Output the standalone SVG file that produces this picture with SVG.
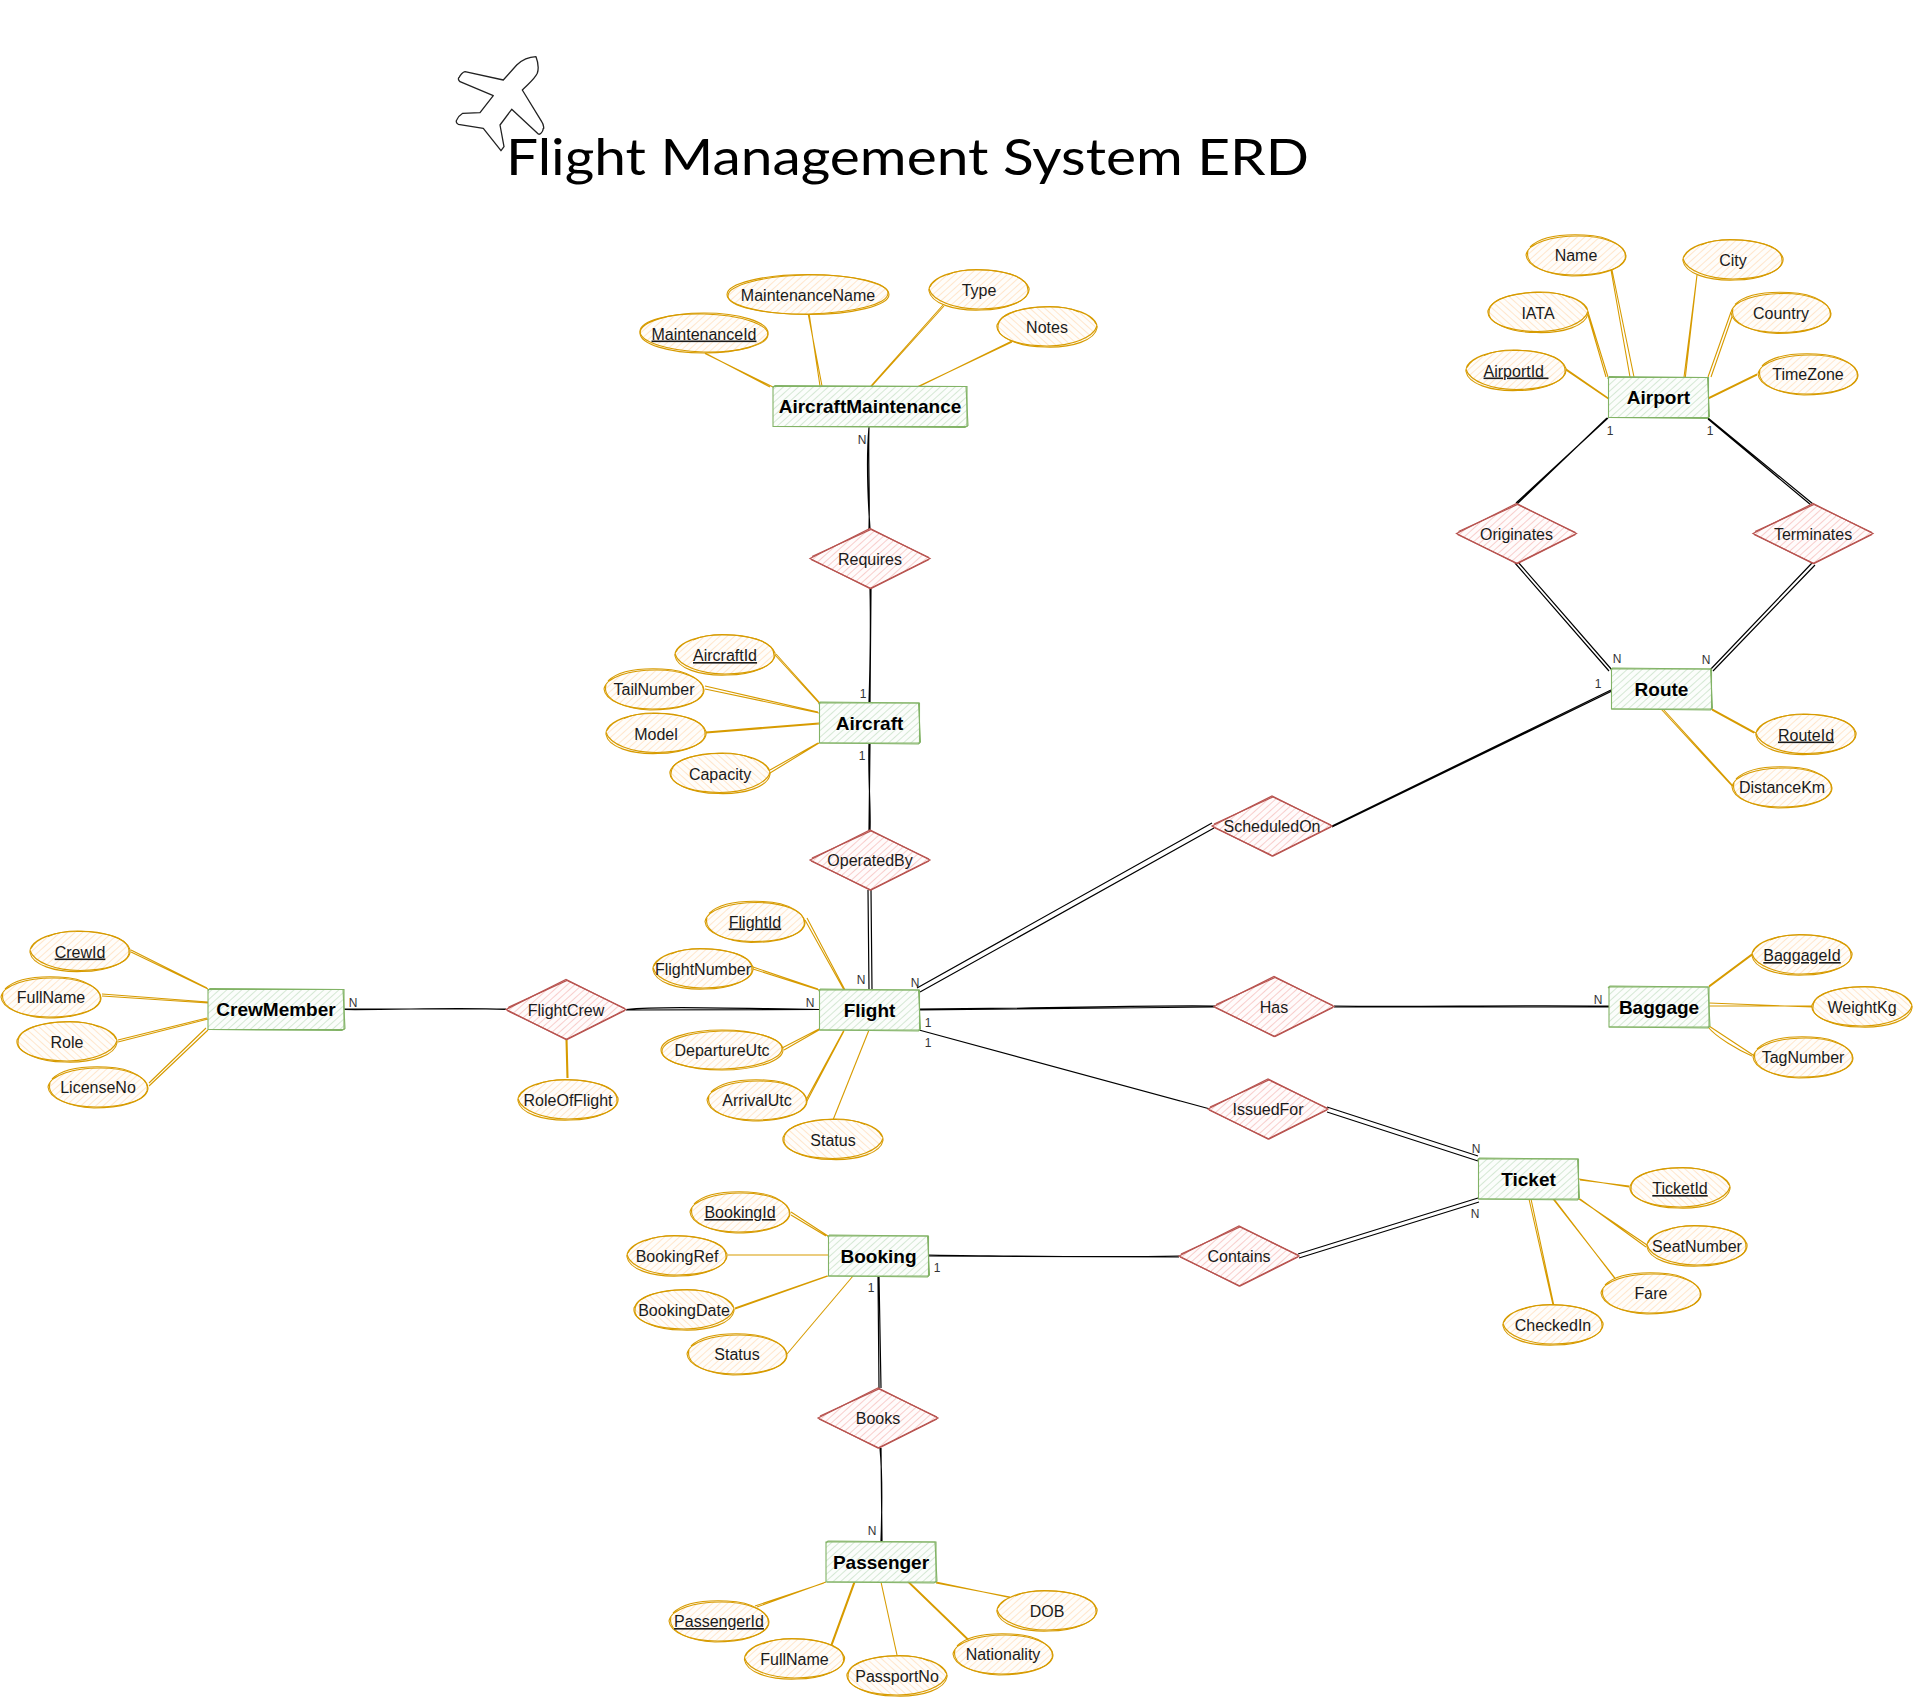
<svg xmlns="http://www.w3.org/2000/svg" xmlns:xlink="http://www.w3.org/1999/xlink" width="1913" height="1697" viewBox="0 0 1913 1697">
<style>
text{font-family:"Liberation Sans",Arial,sans-serif;fill:#1a1a1a;text-anchor:middle}
.a{font-size:16px}
.u{text-decoration:underline}
.en{font-size:19px;font-weight:bold;fill:#000}
.c{font-size:12px;fill:#333}
.title{font-family:Lato,"Open Sans",sans-serif;font-size:50px;fill:#000;text-anchor:start}
.rel{fill:none;stroke:#000;stroke-width:1.2}
.att{fill:none;stroke:#d79b00;stroke-width:1.1}
.as{fill:none;stroke:#d79b00;stroke-width:1.1}
.es{fill:none;stroke:#82b366;stroke-width:1.1}
.ds{fill:none;stroke:#b85450;stroke-width:1.2}
.af{fill:url(#hO);stroke:none}
.ef{fill:url(#hG);stroke:none}
.df{fill:url(#hR);stroke:none}
</style>
<defs>
<pattern id="hO" width="5" height="5" patternUnits="userSpaceOnUse" patternTransform="rotate(-42)"><rect width="5" height="5" fill="#fffdfa"/><line x1="0" y1="2.5" x2="5" y2="2.5" stroke="#ffe6cc" stroke-width="1"/></pattern>
<pattern id="hG" width="5" height="5" patternUnits="userSpaceOnUse" patternTransform="rotate(-42)"><rect width="5" height="5" fill="#fbfdfb"/><line x1="0" y1="2.5" x2="5" y2="2.5" stroke="#d5e8d4" stroke-width="1"/></pattern>
<pattern id="hR" width="5" height="5" patternUnits="userSpaceOnUse" patternTransform="rotate(-42)"><rect width="5" height="5" fill="#fffbfb"/><line x1="0" y1="2.5" x2="5" y2="2.5" stroke="#f8cecc" stroke-width="1"/></pattern>
<g id="e1">
<ellipse class="af" rx="50" ry="20"/>
<path class="as" d="M-49,-3 C-44,-14 -24,-20 -4,-20 C22,-21 46,-14 50,-2 C52,10 28,20 2,20 C-26,21 -48,13 -50,1 C-51,-8 -38,-15 -24,-18"/>
<path class="as" d="M-32,-15 C-16,-22 6,-21 22,-18 C40,-15 50,-8 49,2 C47,13 24,19 0,19 C-24,19 -46,11 -50,-1"/>
</g>
<g id="e2">
<ellipse class="af" rx="50" ry="20"/>
<path class="as" d="M-50,0 C-48,-12 -24,-19 2,-19 C28,-19 49,-11 50,1 C50,13 26,20 -2,20 C-28,20 -49,12 -50,0"/>
<path class="as" d="M-46,-8 C-36,-18 -14,-21 8,-20 C34,-19 52,-8 49,4 C45,15 22,21 -4,21 C-30,20 -52,10 -48,-4"/>
</g>
<g id="e3"><use href="#e1" transform="scale(-1,1)"/></g>
<g id="d">
<polygon class="df" points="-60,0 0,-30 60,0 0,30"/>
<path class="ds" d="M-60,0 L0,-30 L60,0 L0,30 Z"/>
<path class="ds" d="M-58,-2 L1,-29 L59,-1 M59,1 L1,30 L-59,1"/>
</g>
<g id="r100">
<rect class="ef" x="-50" y="-20" width="100" height="40"/>
<path class="es" d="M-50,-20 L50,-20 L50,20 L-50,20 Z"/>
<path class="es" d="M-51,-19 L-49,-21 L49,-20 L51,19 L49,21 L-50,20"/>
</g>
</defs>
<rect width="1913" height="1697" fill="#fff"/>

<g id="title">
<path fill="none" stroke="#222" stroke-width="1.3" stroke-linejoin="round" d="M536,56.7 C538,62 539,68 537.3,73.3 C534,80 528,84 522.3,90 L541.7,121.7 C544,125 544,130 543.3,128.3 C543,132 540,135 538.3,134 L511.7,109.3 L500,125 L504,146.7 L501,150.7 L483.3,128.3 L458.3,124.3 C456,123 456,121 456.7,120 C458,117 460,115 462.7,113.3 L480,112.7 L493.3,95.7 L460,81.7 C458,80 458,78 459.3,77.3 C460,75 463,72 465,71.7 L503.3,80 L516.7,65 C522,60 527,57 536,56.7 Z"/>
<text class="title" x="506" y="175" textLength="803" lengthAdjust="spacingAndGlyphs">Flight Management System ERD</text>
</g>

<g id="connectors">
<path class="att" d="M131,952 L208,989 M131,950 L207,988"/>
<path class="att" d="M102,996 L208,1003 M102,994 L208,1002"/>
<path class="att" d="M118,1042 L208,1019 M118,1040 L207,1018"/>
<path class="att" d="M149,1086 L208,1030 M149,1083 L206,1028"/>
<path class="att" d="M566,1039 L567,1078 M567,1039 L568,1078"/>
<path class="rel" d="M344,1009.5 C400,1010 460,1007 506,1009.5 M344,1009 L506,1009"/>
<path class="rel" d="M626,1009.5 C660,1006 720,1008 819,1009.5 M626,1010 L819,1009.5"/>

<path class="att" d="M705,353.5 L773,387 M705,353 L770,387"/>
<path class="att" d="M808,313 L822,386 M809,313 L820,386"/>
<path class="att" d="M943,305 L870,387 M944,306 L871,387"/>
<path class="att" d="M1012,342 L917,387 M1012,341 L918,387"/>
<path class="rel" d="M869,427 C866,460 868,500 870,529 M869,427 C868,460 870,500 869,529"/>
<path class="rel" d="M870,588 C871,630 870,670 869,703 M871,588 L870,703"/>
<path class="rel" d="M869,743 C868,780 871,810 870,830 M870,743 L869,830"/>
<path class="rel" d="M868,890 L869,990 M871,890 L872,990"/>

<path class="att" d="M775,655 L819,703 L832,720 M776,654 L820,703"/>
<path class="att" d="M705,689 L819,713 M705,686 L818,712"/>
<path class="att" d="M706,732 L819,723 M706,733 L819,724"/>
<path class="att" d="M770,773 L819,743 M770,770 L818,743"/>

<path class="att" d="M805,920 L844,990 M807,918 L845,990"/>
<path class="att" d="M753,969 L819,990 M753,967 L818,989"/>
<path class="att" d="M784,1050 L819,1030 M782,1048 L819,1029"/>
<path class="att" d="M806,1100 L844,1030 M807,1101 L844,1031"/>
<path class="att" d="M833,1120 L869,1030"/>

<path class="att" d="M1612,270 L1634,377 M1611,270 L1630,377"/>
<path class="att" d="M1697,275 L1683,385 M1697,275 L1685,380"/>
<path class="att" d="M1588,312 L1608,377 M1588,315 L1606,377"/>
<path class="att" d="M1731,312 L1708,377 M1733,314 L1711,377"/>
<path class="att" d="M1566,370 L1613,402 M1566,369 L1608,398"/>
<path class="att" d="M1757,374 L1708,398 M1757,375 L1708,399"/>
<path class="rel" d="M1608,418 L1516,503 M1607,418 L1517,504"/>
<path class="rel" d="M1708,418 L1813,504 M1708,419 L1811,505"/>
<path class="rel" d="M1515,563 L1609,671 M1518,562 L1612,670"/>
<path class="rel" d="M1812,563 L1710,670 M1815,565 L1713,671"/>

<path class="att" d="M1712,709 L1756,733 M1712,710 L1754,733"/>
<path class="att" d="M1661,709 L1733,787 M1663,709 L1734,787"/>
<path class="rel" d="M1611,690 L1332,826 M1612,691 L1332,827"/>
<path class="rel" d="M1212,823 L917,988 M1214,828 L920,992"/>
<path class="rel" d="M919,1009 C1050,1009 1130,1005 1215,1006 M919,1010 L1215,1007"/>
<path class="rel" d="M1334,1006 C1420,1007 1500,1005 1609,1006 M1334,1007 L1609,1007"/>
<path class="att" d="M1709,987 L1752,955 M1709,986 L1752,954"/>
<path class="att" d="M1709,1006 L1812,1006 M1709,1003 L1812,1007"/>
<path class="att" d="M1709,1026 L1753,1055 M1708,1027 C1716,1037 1738,1050 1752,1056"/>

<path class="rel" d="M919,1030 L1210,1109 M919,1030 L1180,1101"/>
<path class="rel" d="M1327,1107 L1478,1156 M1327,1112 L1478,1161"/>
<path class="rel" d="M1298,1254 L1478,1198 M1299,1258 L1479,1202"/>
<path class="rel" d="M928,1255 C1020,1256 1100,1258 1179,1256 M928,1256 L1179,1257"/>

<path class="att" d="M1579,1179 L1629,1187 M1580,1180 L1629,1186"/>
<path class="att" d="M1579,1199 L1647,1245 M1580,1199 L1646,1247"/>
<path class="att" d="M1553,1199 L1615,1278 M1554,1199 L1616,1280"/>
<path class="att" d="M1529,1199 L1553,1305 M1531,1199 L1554,1306"/>

<path class="att" d="M791,1212 L828,1236 M791,1215 L826,1236"/>
<path class="att" d="M728,1255 L828,1255"/>
<path class="att" d="M735,1309 L828,1276 M735,1308 L827,1276"/>
<path class="att" d="M787,1354 L853,1276"/>
<path class="rel" d="M878,1276 L879,1388 M879,1276 L881,1388"/>
<path class="rel" d="M880,1448 C883,1480 882,1510 881,1541 M881,1448 L882,1541"/>

<path class="att" d="M826,1582 L757,1607 M824,1583 L755,1606"/>
<path class="att" d="M854,1582 L831,1645 M855,1582 L832,1645"/>
<path class="att" d="M881,1582 L897,1655"/>
<path class="att" d="M908,1582 L968,1640 M909,1582 L969,1640"/>
<path class="att" d="M936,1582 L1012,1598 M936,1583 L1010,1597"/>

<text class="c" x="353" y="1007">N</text>
<text class="c" x="810" y="1007">N</text>
<text class="c" x="862" y="444">N</text>
<text class="c" x="863" y="698">1</text>
<text class="c" x="862" y="760">1</text>
<text class="c" x="861" y="984">N</text>
<text class="c" x="915" y="987">N</text>
<text class="c" x="928" y="1027">1</text>
<text class="c" x="928" y="1047">1</text>
<text class="c" x="1610" y="435">1</text>
<text class="c" x="1710" y="435">1</text>
<text class="c" x="1617" y="663">N</text>
<text class="c" x="1706" y="664">N</text>
<text class="c" x="1598" y="688">1</text>
<text class="c" x="1598" y="1004">N</text>
<text class="c" x="1476" y="1153">N</text>
<text class="c" x="1475" y="1218">N</text>
<text class="c" x="937" y="1272">1</text>
<text class="c" x="871" y="1292">1</text>
<text class="c" x="872" y="1535">N</text>
</g>

<g id="entity-AircraftMaintenance" transform="translate(870,406.5)"><rect class="ef" x="-97" y="-20" width="194" height="40"/><path class="es" d="M-97,-20 L97,-20 L97,20 L-97,20 Z"/><path class="es" d="M-97,-19 L-95,-21 L96,-20 L98,19 L95,21 L-96,20"/><text class="en" y="6.5">AircraftMaintenance</text></g>
<g id="entity-Aircraft" transform="translate(869.5,723)"><use href="#r100"/><text class="en" y="6.5">Aircraft</text></g>
<g id="entity-Flight" transform="translate(869.5,1010)"><use href="#r100"/><text class="en" y="6.5">Flight</text></g>
<g id="entity-CrewMember" transform="translate(276,1009.5)"><rect class="ef" x="-68" y="-20" width="136" height="40"/><path class="es" d="M-68,-20 L68,-20 L68,20 L-68,20 Z"/><path class="es" d="M-68,-19 L-66,-21 L67,-20 L69,19 L66,21 L-67,20"/><text class="en" y="6.5">CrewMember</text></g>
<g id="entity-Airport" transform="translate(1658.5,397.5)"><use href="#r100"/><text class="en" y="6.5">Airport</text></g>
<g id="entity-Route" transform="translate(1661.5,689)"><use href="#r100"/><text class="en" y="6.5">Route</text></g>
<g id="entity-Baggage" transform="translate(1659,1007)"><use href="#r100"/><text class="en" y="6.5">Baggage</text></g>
<g id="entity-Ticket" transform="translate(1528.5,1179)"><use href="#r100"/><text class="en" y="6.5">Ticket</text></g>
<g id="entity-Booking" transform="translate(878.5,1256)"><use href="#r100"/><text class="en" y="6.5">Booking</text></g>
<g id="entity-Passenger" transform="translate(881,1562)"><rect class="ef" x="-55" y="-20" width="110" height="40"/><path class="es" d="M-55,-20 L55,-20 L55,20 L-55,20 Z"/><path class="es" d="M-55,-19 L-53,-21 L54,-20 L56,19 L53,21 L-54,20"/><text class="en" y="6.5">Passenger</text></g>

<g id="rel-Requires" transform="translate(870,558.5)"><use href="#d"/><text class="a" y="6">Requires</text></g>
<g id="rel-OperatedBy" transform="translate(870,860)"><use href="#d"/><text class="a" y="6">OperatedBy</text></g>
<g id="rel-FlightCrew" transform="translate(566,1009.5)"><use href="#d"/><text class="a" y="6">FlightCrew</text></g>
<g id="rel-Originates" transform="translate(1516.5,533.5)"><use href="#d"/><text class="a" y="6">Originates</text></g>
<g id="rel-Terminates" transform="translate(1813,533.5)"><use href="#d"/><text class="a" y="6">Terminates</text></g>
<g id="rel-ScheduledOn" transform="translate(1272,826)"><use href="#d"/><text class="a" y="6">ScheduledOn</text></g>
<g id="rel-Has" transform="translate(1274,1006.5)"><use href="#d"/><text class="a" y="6">Has</text></g>
<g id="rel-IssuedFor" transform="translate(1268,1109)"><use href="#d"/><text class="a" y="6">IssuedFor</text></g>
<g id="rel-Contains" transform="translate(1239,1256)"><use href="#d"/><text class="a" y="6">Contains</text></g>
<g id="rel-Books" transform="translate(878,1418)"><use href="#d"/><text class="a" y="6">Books</text></g>

<g id="attr-MaintenanceId" transform="translate(704,333)"><ellipse class="af" rx="64" ry="20"/><ellipse class="as" rx="64" ry="20"/><ellipse class="as" rx="64" ry="19" transform="rotate(1.5)"/><text class="a u" y="6.5">MaintenanceId</text></g>
<g id="attr-MaintenanceName" transform="translate(808,294.5)"><ellipse class="af" rx="81" ry="20"/><ellipse class="as" rx="81" ry="20"/><ellipse class="as" rx="80" ry="19.5" transform="rotate(-1)"/><text class="a" y="6">MaintenanceName</text></g>
<g id="attr-Type" transform="translate(979,290)"><use href="#e1"/><text class="a" y="6">Type</text></g>
<g id="attr-Notes" transform="translate(1047,327)"><use href="#e3"/><text class="a" y="6">Notes</text></g>

<g id="attr-AircraftId" transform="translate(725,655)"><use href="#e1"/><text class="a u" y="6">AircraftId</text></g>
<g id="attr-TailNumber" transform="translate(654,689)"><use href="#e2"/><text class="a" y="6">TailNumber</text></g>
<g id="attr-Model" transform="translate(656,733.5)"><use href="#e1"/><text class="a" y="6">Model</text></g>
<g id="attr-Capacity" transform="translate(720,773.5)"><use href="#e3"/><text class="a" y="6">Capacity</text></g>

<g id="attr-FlightId" transform="translate(755,921.5)"><use href="#e2"/><text class="a u" y="6">FlightId</text></g>
<g id="attr-FlightNumber" transform="translate(703,969)"><use href="#e1"/><text class="a" y="6">FlightNumber</text></g>
<g id="attr-DepartureUtc" transform="translate(722,1050)"><ellipse class="af" rx="61" ry="20"/><ellipse class="as" rx="61" ry="20"/><ellipse class="as" rx="60" ry="19" transform="rotate(-1.5)"/><text class="a" y="6">DepartureUtc</text></g>
<g id="attr-ArrivalUtc" transform="translate(757,1100)"><use href="#e2"/><text class="a" y="6">ArrivalUtc</text></g>
<g id="attr-Status-flight" transform="translate(833,1139.5)"><use href="#e3"/><text class="a" y="6">Status</text></g>

<g id="attr-CrewId" transform="translate(80,951.5)"><use href="#e1"/><text class="a u" y="6">CrewId</text></g>
<g id="attr-FullName-crew" transform="translate(51,997)"><use href="#e2"/><text class="a" y="6">FullName</text></g>
<g id="attr-Role" transform="translate(67,1042)"><use href="#e3"/><text class="a" y="6">Role</text></g>
<g id="attr-LicenseNo" transform="translate(98,1087)"><use href="#e2"/><text class="a" y="6">LicenseNo</text></g>
<g id="attr-RoleOfFlight" transform="translate(568,1100)"><use href="#e1"/><text class="a" y="6">RoleOfFlight</text></g>

<g id="attr-Name" transform="translate(1576,255)"><use href="#e2"/><text class="a" y="6">Name</text></g>
<g id="attr-City" transform="translate(1733,260)"><use href="#e1"/><text class="a" y="6">City</text></g>
<g id="attr-IATA" transform="translate(1538,312.5)"><use href="#e3"/><text class="a" y="6">IATA</text></g>
<g id="attr-Country" transform="translate(1781,312.5)"><use href="#e2"/><text class="a" y="6">Country</text></g>
<g id="attr-AirportId" transform="translate(1516,370.5)"><use href="#e1"/><text class="a u" y="6">AirportId&#160;</text></g>
<g id="attr-TimeZone" transform="translate(1808,374)"><use href="#e2"/><text class="a" y="6">TimeZone</text></g>

<g id="attr-RouteId" transform="translate(1806,734.5)"><use href="#e1"/><text class="a u" y="6">RouteId</text></g>
<g id="attr-DistanceKm" transform="translate(1782,787)"><use href="#e2"/><text class="a" y="6">DistanceKm</text></g>

<g id="attr-BaggageId" transform="translate(1802,955)"><use href="#e1"/><text class="a u" y="6">BaggageId</text></g>
<g id="attr-WeightKg" transform="translate(1862,1007)"><use href="#e3"/><text class="a" y="6">WeightKg</text></g>
<g id="attr-TagNumber" transform="translate(1803,1057)"><use href="#e2"/><text class="a" y="6">TagNumber</text></g>

<g id="attr-TicketId" transform="translate(1680,1188)"><use href="#e3"/><text class="a u" y="6">TicketId</text></g>
<g id="attr-SeatNumber" transform="translate(1697,1246)"><use href="#e1"/><text class="a" y="6">SeatNumber</text></g>
<g id="attr-Fare" transform="translate(1651,1293)"><use href="#e2"/><text class="a" y="6">Fare</text></g>
<g id="attr-CheckedIn" transform="translate(1553,1325)"><use href="#e1"/><text class="a" y="6">CheckedIn</text></g>

<g id="attr-BookingId" transform="translate(740,1212)"><use href="#e2"/><text class="a u" y="6">BookingId</text></g>
<g id="attr-BookingRef" transform="translate(677,1256)"><use href="#e1"/><text class="a" y="6">BookingRef</text></g>
<g id="attr-BookingDate" transform="translate(684,1310)"><use href="#e3"/><text class="a" y="6">BookingDate</text></g>
<g id="attr-Status-booking" transform="translate(737,1354)"><use href="#e2"/><text class="a" y="6">Status</text></g>

<g id="attr-PassengerId" transform="translate(719,1621)"><use href="#e2"/><text class="a u" y="6">PassengerId</text></g>
<g id="attr-FullName-passenger" transform="translate(794.5,1659)"><use href="#e1"/><text class="a" y="6">FullName</text></g>
<g id="attr-PassportNo" transform="translate(897,1676)"><use href="#e3"/><text class="a" y="6">PassportNo</text></g>
<g id="attr-Nationality" transform="translate(1003,1654)"><use href="#e2"/><text class="a" y="6">Nationality</text></g>
<g id="attr-DOB" transform="translate(1047,1611)"><use href="#e1"/><text class="a" y="6">DOB</text></g>
</svg>
